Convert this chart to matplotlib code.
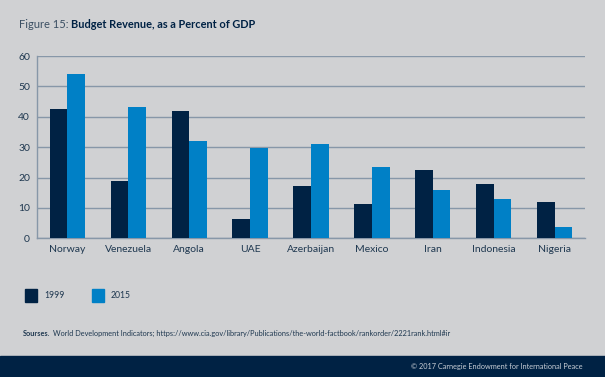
import matplotlib
matplotlib.use("Agg")
import matplotlib.pyplot as plt
import numpy as np

countries = ["Norway", "Venezuela", "Angola", "UAE", "Azerbaijan",
             "Mexico", "Iran", "Indonesia", "Nigeria"]
rev_1999 = [42.4, 18.8, 41.9, 6.3, 17.3, 11.4, 22.4, 18.0, 11.9]
rev_2015 = [54.0, 43.2, 32.0, 29.8, 30.9, 23.5, 15.9, 13.0, 3.7]
y_ticks = [0, 10, 20, 30, 40, 50, 60]

bg = "#d0d1d3"
navy = "#002244"
blue = "#0080c6"
grid_col = "#8797a8"
text_col = "#1f3850"

plt.rcParams["font.family"] = ["Lato", "DejaVu Sans"]

W, H = 605, 377
fig = plt.figure(figsize=(W / 100, H / 100), dpi=100, facecolor=bg)
ax = fig.add_axes([37 / W, 1 - 238.3 / H, 548 / W, (238.3 - 56) / H])
ax.set_facecolor(bg)

x = np.arange(len(countries))
w = 0.29
ax.bar(x - w / 2, rev_1999, width=w, color=navy, zorder=3)
ax.bar(x + w / 2, rev_2015, width=w, color=blue, zorder=3)

ax.set_xlim(-0.5, len(countries) - 0.5)
ax.set_ylim(0, 60)
ax.set_yticks(y_ticks)
ax.grid(True, axis="y", color=grid_col, linewidth=1.0, zorder=1)
ax.set_axisbelow(True)
for s in ["top", "right"]:
    ax.spines[s].set_visible(False)
for s in ["left", "bottom"]:
    ax.spines[s].set_color(grid_col)
    ax.spines[s].set_linewidth(1.0)
ax.set_xticks(x)
ax.set_xticklabels(countries)
ax.tick_params(axis="both", length=0, labelsize=7.5, colors=text_col, pad=5)

# title: light prefix, bold rest placed right after it
t1 = fig.text(19 / W, 1 - 25 / H, "Figure 15:", fontsize=8.0, color="#3b4f63",
              va="center", ha="left")
fig.canvas.draw()
bb = t1.get_window_extent(fig.canvas.get_renderer())
fig.text((bb.x1 + 2.5) / W, 1 - 25 / H, "Budget Revenue, as a Percent of GDP", fontsize=7.95,
         color=navy, fontweight="bold", va="center", ha="left")

# legend
for xs, lab, col in [(25, "1999", navy), (92, "2015", blue)]:
    fig.patches.append(plt.Rectangle((xs / W, 1 - 301.7 / H), 12 / W, 12.4 / H,
                                     transform=fig.transFigure, color=col))
    fig.text((xs + 19) / W, 1 - 295.7 / H, lab, fontsize=6.2, color=text_col,
             va="center", ha="left")

# source
s1 = fig.text(22.7 / W, 1 - 333 / H, "Sourses.", fontsize=5.3, color=text_col,
              fontweight="bold", va="center", ha="left")
fig.canvas.draw()
bb = s1.get_window_extent(fig.canvas.get_renderer())
fig.text((bb.x1 + 3) / W, 1 - 333 / H,
         "World Development Indicators; https://www.cia.gov/library/Publications/the-world-factbook/rankorder/2221rank.html#ir",
         fontsize=5.3, color=text_col, va="center", ha="left")

# footer band
fig.patches.append(plt.Rectangle((0, 0), 1, 21 / H, transform=fig.transFigure,
                                 color="#002244"))
fig.text(583 / W, 1 - 367 / H, "\u00a9 2017 Carnegie Endowment for International Peace",
         fontsize=5.3, color="#c8ced6", va="center", ha="right")

fig.savefig("out.png", dpi=100, facecolor=bg)
